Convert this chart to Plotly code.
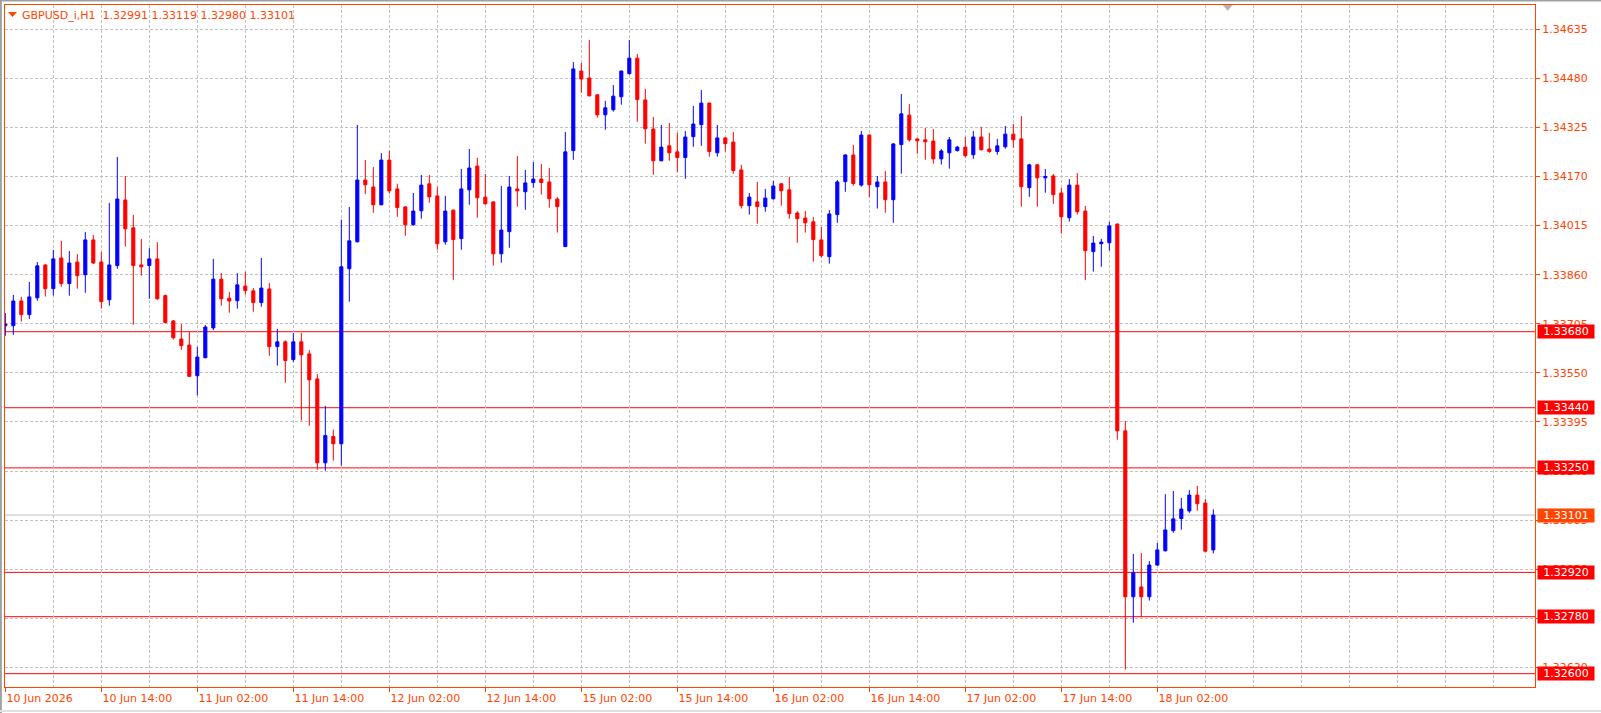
import plotly.graph_objects as go

# ---------------- data (GBPUSD_i, H1) ----------------
opens = [1.33699, 1.33699, 1.33777, 1.33734, 1.33787, 1.33891, 1.33816, 1.33913, 1.33832, 1.33900,
         1.33860, 1.33970, 1.33900, 1.33781, 1.33889, 1.34096, 1.34008, 1.33891, 1.33889, 1.33910,
         1.33794, 1.33714, 1.33657, 1.33638, 1.33541, 1.33598, 1.33692, 1.33846, 1.33786, 1.33778,
         1.33824, 1.33809, 1.33772, 1.33815, 1.33633, 1.33648, 1.33592, 1.33648, 1.33610, 1.33531,
         1.33266, 1.33349, 1.33326, 1.33879, 1.33964, 1.34159, 1.34137, 1.34081, 1.34222, 1.34131,
         1.34074, 1.34018, 1.34062, 1.34147, 1.34109, 1.33964, 1.34064, 1.33974, 1.34128, 1.34203,
         1.34105, 1.34090, 1.33926, 1.33996, 1.34131, 1.34122, 1.34151, 1.34162, 1.34153, 1.34099,
         1.33949, 1.34252, 1.34503, 1.34481, 1.34428, 1.34365, 1.34381, 1.34422, 1.34495, 1.34544,
         1.34412, 1.34320, 1.34220, 1.34267, 1.34248, 1.34230, 1.34296, 1.34334, 1.34402, 1.34245,
         1.34292, 1.34279, 1.34191, 1.34078, 1.34090, 1.34075, 1.34100, 1.34147, 1.34128, 1.34055,
         1.34039, 1.34027, 1.33970, 1.33917, 1.34050, 1.34154, 1.34238, 1.34143, 1.34301, 1.34138,
         1.34153, 1.34097, 1.34271, 1.34364, 1.34289, 1.34286, 1.34282, 1.34226, 1.34245, 1.34252,
         1.34263, 1.34239, 1.34295, 1.34257, 1.34249, 1.34264, 1.34304, 1.34289, 1.34135, 1.34207,
         1.34166, 1.34172, 1.34118, 1.34040, 1.34143, 1.34061, 1.33933, 1.33958, 1.33961, 1.34020,
         1.33367, 1.32843, 1.32874, 1.32843, 1.32943, 1.32988, 1.33052, 1.33090, 1.33114, 1.33164,
         1.33139, 1.32991]
highs = [1.33739, 1.33796, 1.33790, 1.33837, 1.33900, 1.33893, 1.33938, 1.33967, 1.33935, 1.33925,
         1.33995, 1.33985, 1.33932, 1.34087, 1.34232, 1.34172, 1.34049, 1.33973, 1.33944, 1.33963,
         1.33797, 1.33717, 1.33704, 1.33679, 1.33632, 1.33701, 1.33910, 1.33865, 1.33805, 1.33865,
         1.33869, 1.33818, 1.33913, 1.33834, 1.33689, 1.33653, 1.33676, 1.33676, 1.33622, 1.33546,
         1.33446, 1.33371, 1.34034, 1.34074, 1.34333, 1.34222, 1.34200, 1.34244, 1.34251, 1.34147,
         1.34077, 1.34118, 1.34175, 1.34175, 1.34137, 1.34109, 1.34066, 1.34194, 1.34257, 1.34229,
         1.34178, 1.34092, 1.34140, 1.34172, 1.34235, 1.34191, 1.34216, 1.34210, 1.34197, 1.34105,
         1.34311, 1.34532, 1.34529, 1.34601, 1.34431, 1.34409, 1.34459, 1.34505, 1.34601, 1.34557,
         1.34447, 1.34358, 1.34333, 1.34339, 1.34308, 1.34314, 1.34393, 1.34443, 1.34404, 1.34333,
         1.34295, 1.34311, 1.34207, 1.34118, 1.34153, 1.34131, 1.34156, 1.34149, 1.34169, 1.34061,
         1.34061, 1.34042, 1.34011, 1.34064, 1.34159, 1.34241, 1.34270, 1.34314, 1.34303, 1.34172,
         1.34188, 1.34276, 1.34431, 1.34399, 1.34290, 1.34323, 1.34320, 1.34257, 1.34295, 1.34267,
         1.34295, 1.34314, 1.34327, 1.34308, 1.34289, 1.34330, 1.34336, 1.34361, 1.34210, 1.34210,
         1.34194, 1.34178, 1.34134, 1.34162, 1.34181, 1.34077, 1.33982, 1.33973, 1.34027, 1.34022,
         1.33398, 1.32978, 1.32981, 1.32956, 1.33013, 1.33167, 1.33177, 1.33155, 1.33180, 1.33193,
         1.33152, 1.33119]
lows = [1.33667, 1.33670, 1.33712, 1.33720, 1.33778, 1.33791, 1.33794, 1.33822, 1.33794, 1.33816,
        1.33803, 1.33894, 1.33753, 1.33762, 1.33879, 1.33949, 1.33702, 1.33857, 1.33784, 1.33781,
        1.33707, 1.33655, 1.33623, 1.33537, 1.33479, 1.33596, 1.33685, 1.33762, 1.33740, 1.33753,
        1.33797, 1.33743, 1.33759, 1.33604, 1.33573, 1.33519, 1.33585, 1.33399, 1.33383, 1.33244,
        1.33241, 1.33273, 1.33257, 1.33775, 1.33962, 1.34115, 1.34056, 1.34079, 1.34116, 1.34043,
        1.33983, 1.34015, 1.34037, 1.34087, 1.33939, 1.33955, 1.33844, 1.33939, 1.34081, 1.34040,
        1.34081, 1.33889, 1.33898, 1.33945, 1.34075, 1.34065, 1.34135, 1.34113, 1.34072, 1.33993,
        1.33947, 1.34223, 1.34435, 1.34423, 1.34356, 1.34318, 1.34375, 1.34397, 1.34492, 1.34343,
        1.34274, 1.34176, 1.34218, 1.34220, 1.34185, 1.34163, 1.34264, 1.34267, 1.34233, 1.34233,
        1.34249, 1.34179, 1.34069, 1.34050, 1.34021, 1.34059, 1.34097, 1.34078, 1.34037, 1.33961,
        1.33993, 1.33901, 1.33914, 1.33895, 1.34024, 1.34122, 1.34141, 1.34138, 1.34105, 1.34069,
        1.34056, 1.34024, 1.34179, 1.34280, 1.34242, 1.34223, 1.34211, 1.34208, 1.34195, 1.34249,
        1.34230, 1.34226, 1.34252, 1.34245, 1.34239, 1.34258, 1.34261, 1.34075, 1.34106, 1.34075,
        1.34119, 1.34084, 1.33990, 1.34028, 1.34050, 1.33843, 1.33870, 1.33885, 1.33936, 1.33339,
        1.32613, 1.32761, 1.32780, 1.32831, 1.32941, 1.32986, 1.33045, 1.33055, 1.33108, 1.33115,
        1.32984, 1.32980]
closes = [1.33704, 1.33777, 1.33734, 1.33790, 1.33888, 1.33816, 1.33910, 1.33832, 1.33897, 1.33857,
          1.33970, 1.33897, 1.33775, 1.33891, 1.34099, 1.34005, 1.33889, 1.33885, 1.33910, 1.33784,
          1.33709, 1.33661, 1.33636, 1.33539, 1.33600, 1.33695, 1.33846, 1.33784, 1.33777, 1.33828,
          1.33810, 1.33772, 1.33818, 1.33633, 1.33648, 1.33589, 1.33648, 1.33607, 1.33528, 1.33266,
          1.33352, 1.33326, 1.33885, 1.33967, 1.34159, 1.34144, 1.34081, 1.34222, 1.34125, 1.34072,
          1.34018, 1.34061, 1.34143, 1.34106, 1.33958, 1.34061, 1.33971, 1.34131, 1.34197, 1.34103,
          1.34084, 1.33926, 1.34001, 1.34137, 1.34125, 1.34150, 1.34162, 1.34151, 1.34100, 1.34075,
          1.34248, 1.34510, 1.34478, 1.34425, 1.34365, 1.34387, 1.34424, 1.34503, 1.34544, 1.34413,
          1.34321, 1.34220, 1.34263, 1.34245, 1.34230, 1.34295, 1.34336, 1.34402, 1.34249, 1.34292,
          1.34274, 1.34189, 1.34078, 1.34105, 1.34075, 1.34102, 1.34140, 1.34125, 1.34053, 1.34037,
          1.34024, 1.33971, 1.33920, 1.34052, 1.34153, 1.34238, 1.34148, 1.34301, 1.34144, 1.34153,
          1.34097, 1.34273, 1.34368, 1.34286, 1.34283, 1.34280, 1.34226, 1.34251, 1.34286, 1.34263,
          1.34236, 1.34295, 1.34255, 1.34249, 1.34267, 1.34304, 1.34286, 1.34138, 1.34207, 1.34166,
          1.34170, 1.34113, 1.34043, 1.34143, 1.34059, 1.33936, 1.33960, 1.33963, 1.34014, 1.33367,
          1.32843, 1.32919, 1.32843, 1.32943, 1.32991, 1.33054, 1.33089, 1.33120, 1.33164, 1.33137,
          1.32987, 1.33101]

time_labels = ["10 Jun 2026\u00a0", "10 Jun 14:00", "11 Jun 02:00", "11 Jun 14:00", "12 Jun 02:00",
               "12 Jun 14:00", "15 Jun 02:00", "15 Jun 14:00", "16 Jun 02:00", "16 Jun 14:00",
               "17 Jun 02:00", "17 Jun 14:00", "18 Jun 02:00"]
label_bars = [0, 12, 24, 36, 48, 60, 72, 84, 96, 108, 120, 132, 144]
price_ticks = [1.34635, 1.34480, 1.34325, 1.34170, 1.34015, 1.33860, 1.33705,
               1.33550, 1.33395, 1.33240, 1.33085, 1.32930, 1.32775, 1.32620]
levels = [1.33680, 1.33440, 1.33250, 1.32920, 1.32780, 1.32600]
bid = closes[-1]
symbol = "GBPUSD_i,H1"

# ---------------- styling ----------------
ORANGE = "#FF4500"
RED = "#FF0000"
BLUE = "#0000FF"
GRID = "#C0C0C0"
FONT = "DejaVu Sans"
bars = list(range(len(closes)))
minor_bars = [b for b in range(6, 192, 6) if b not in label_bars]

fig = go.Figure(go.Candlestick(
    x=bars, open=opens, high=highs, low=lows, close=closes,
    increasing=dict(line=dict(color=BLUE, width=1), fillcolor=BLUE),
    decreasing=dict(line=dict(color=RED, width=1), fillcolor=RED),
    whiskerwidth=0, hoverinfo="skip", showlegend=False))

fig.update_layout(
    width=1601, height=713,
    margin=dict(l=5, r=66, t=5, b=26, pad=0),
    plot_bgcolor="white", paper_bgcolor="white",
    boxgap=0.45, showlegend=False,
    font=dict(family=FONT, size=11, color=ORANGE),
)

fig.update_xaxes(
    range=[-0.04, 191.21], tickmode="array", tickvals=label_bars, ticktext=time_labels,
    ticks="outside", ticklen=4, tickwidth=1, tickcolor=ORANGE,
    ticklabelshift=36, ticklabelstandoff=-3,
    showline=True, linecolor=ORANGE, linewidth=1, mirror=True,
    showgrid=True, gridcolor=GRID, gridwidth=1, griddash="3px,2px",
    zeroline=False, rangeslider_visible=False,
    tickfont=dict(family=FONT, size=11, color=ORANGE),
    minor=dict(tickvals=minor_bars, showgrid=True, gridcolor=GRID, gridwidth=1,
               griddash="3px,2px", ticks=""),
)
fig.update_yaxes(
    side="right", range=[1.32558, 1.347118], tickmode="array", tickvals=price_ticks,
    ticktext=[f"{v:.5f}" for v in price_ticks],
    ticks="outside", ticklen=4, tickwidth=1, tickcolor=ORANGE,
    showline=True, linecolor=ORANGE, linewidth=1, mirror=True,
    showgrid=True, gridcolor=GRID, gridwidth=1, griddash="3px,2px",
    zeroline=False,
    tickfont=dict(family=FONT, size=11, color=ORANGE),
)

shapes = []
annotations = []
# bid line
shapes.append(dict(type="line", xref="paper", x0=0, x1=1, yref="y", y0=bid, y1=bid,
                   line=dict(color=GRID, width=1), layer="between"))
annotations.append(dict(xref="paper", x=1, xanchor="left", xshift=2, yref="y", y=bid,
                        yanchor="middle", text=f"{bid:.5f}", showarrow=False,
                        bgcolor=ORANGE, width=54, height=11, borderpad=1, align="center",
                        font=dict(family=FONT, size=11, color="white")))
# horizontal levels
for lv in levels:
    shapes.append(dict(type="line", xref="paper", x0=0, x1=1, yref="y", y0=lv, y1=lv,
                       line=dict(color=RED, width=1), layer="between"))
    annotations.append(dict(xref="paper", x=1, xanchor="left", xshift=2, yref="y", y=lv,
                            yanchor="middle", text=f"{lv:.5f}", showarrow=False,
                            bgcolor=RED, width=54, height=11, borderpad=1, align="center",
                            font=dict(family=FONT, size=11, color="white")))

# header text
header = f"{symbol}\u00a0\u00a01.32991 1.33119 1.32980 1.33101"
header = f"{symbol}\u00a0\u00a0{opens[-1]:.5f} {highs[-1]:.5f} {lows[-1]:.5f} {closes[-1]:.5f}"
annotations.append(dict(xref="paper", x=0, xanchor="left", xshift=15, yref="paper", y=1,
                        yanchor="middle", yshift=-10, text=header, showarrow=False,
                        font=dict(family=FONT, size=11, color=ORANGE)))
# small header triangle
shapes.append(dict(type="path", xref="paper", yref="paper",
                   path="M 0.00196,0.98974 L 0.00784,0.98974 L 0.0049,0.98240 Z",
                   fillcolor=ORANGE, line=dict(width=0), layer="above"))
# chart-shift marker
shapes.append(dict(type="path", xref="paper", yref="paper",
                   path="M 0.79588,1.0 L 0.80242,1.0 L 0.79915,0.99164 Z",
                   fillcolor="#B4B4B4", line=dict(width=0), layer="above"))
# window edges
shapes.append(dict(type="line", xref="paper", yref="paper", x0=-0.0033, x1=1.0432,
                   y0=1.0066, y1=1.0066, line=dict(color="#A0A0A0", width=2), layer="above"))
shapes.append(dict(type="line", xref="paper", yref="paper", x0=-0.0027, x1=-0.0027,
                   y0=-0.04, y1=1.008, line=dict(color="#A0A0A0", width=2), layer="above"))
shapes.append(dict(type="line", xref="paper", yref="paper", x0=-0.0033, x1=1.0432,
                   y0=-0.0352, y1=-0.0352, line=dict(color="#E0E0E0", width=2), layer="above"))

fig.update_layout(shapes=shapes, annotations=annotations)

fig.write_html("out.html")
